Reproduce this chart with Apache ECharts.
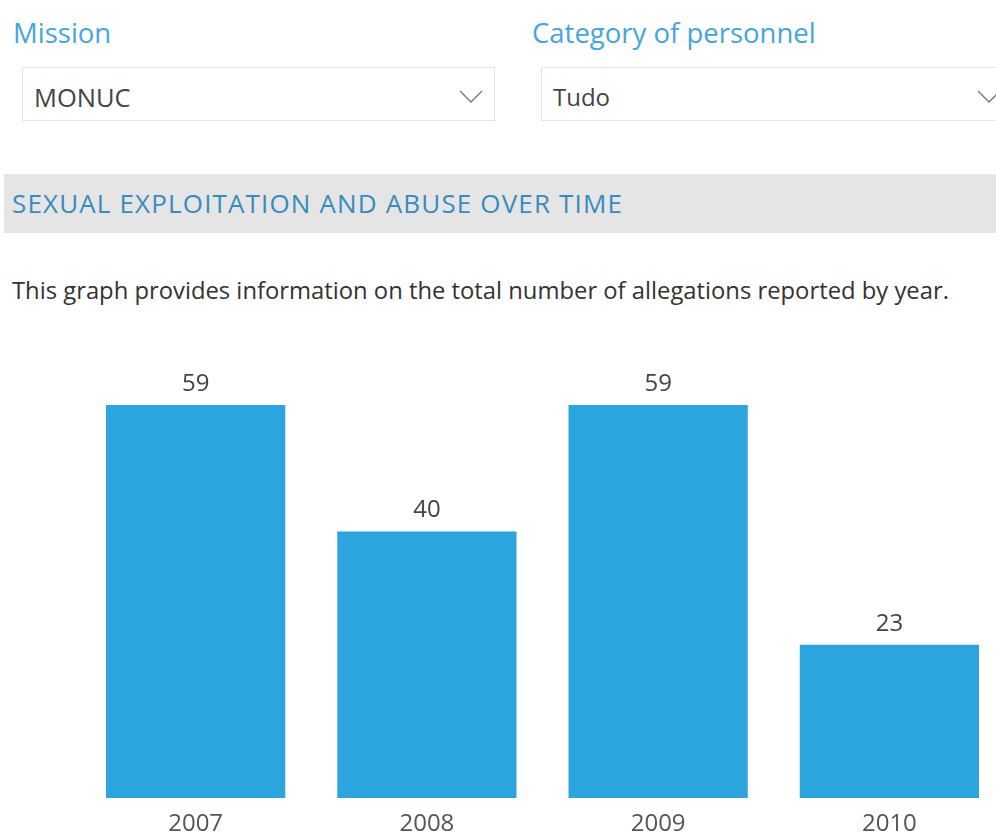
<!DOCTYPE html>
<html>
<head>
<meta charset="utf-8">
<script src="https://cdn.jsdelivr.net/npm/echarts@6/dist/echarts.min.js"></script>
<style>
    html, body { margin: 0; padding: 0; background: #fff; width: 996px; height: 835px; overflow: hidden; }
    body { position: relative; font-family: 'Open Sans', 'Noto Sans', sans-serif; }
    .lbl { position: absolute; top: 13px; font-size: 27.5px; color: #45a5df; line-height: 40px; white-space: nowrap; }
    .sel { position: absolute; top: 67px; height: 52px; border: 1px solid #e4e4e4; background: #fff; box-sizing: content-box; }
    .sel span { position: absolute; left: 11px; top: 2px; line-height: 54px; color: #444; }
    .sel svg { position: absolute; top: 22px; }
    .band { position: absolute; left: 4px; top: 174px; width: 992px; height: 59px; background: #e5e5e5; }
    .band span { position: absolute; left: 8px; top: 0; line-height: 59px; font-size: 26px; color: #3a8bbd;
        letter-spacing: 1.15px; white-space: nowrap; }
    .desc { position: absolute; left: 12px; top: 270px; font-size: 23.8px; color: #333; line-height: 40px; white-space: nowrap; }
    #chart { position: absolute; left: 0; top: 330px; width: 1005px; height: 505px; }
</style>
</head>
<body>
<div class="lbl" style="left:13px">Mission</div>
<div class="sel" style="left:22px;width:471px">
    <span style="font-size:25.5px">MONUC</span>
    <svg style="left:436px" width="24" height="14"><polyline points="1,1 12,12 23,1" fill="none" stroke="#777" stroke-width="1.3"/></svg>
</div>
<div class="lbl" style="left:532px">Category of personnel</div>
<div class="sel" style="left:541px;width:470px">
    <span style="font-size:24px">Tudo</span>
    <svg style="left:435px" width="24" height="14"><polyline points="1,1 12,12 23,1" fill="none" stroke="#777" stroke-width="1.3"/></svg>
</div>
<div class="band"><span>SEXUAL EXPLOITATION AND ABUSE OVER TIME</span></div>
<div class="desc">This graph provides information on the total number of allegations reported by year.</div>
<div id="chart"></div>
<script>
    var years = ['2007', '2008', '2009', '2010'];
    var allegations = [59, 40, 59, 23];

    var chart = echarts.init(document.getElementById('chart'));
    var option = {
        animation: false,
        grid: { left: 80, right: 0, top: 75, bottom: 37, outerBoundsMode: 'none', containLabel: false },
        xAxis: {
            type: 'category',
            data: years,
            axisLine: { show: false },
            axisTick: { show: false },
            axisLabel: { color: '#555', fontSize: 24, margin: 14, fontFamily: 'Open Sans' }
        },
        yAxis: {
            type: 'value',
            min: 0,
            max: 59,
            show: false
        },
        series: [{
            type: 'bar',
            data: allegations,
            barCategoryGap: '22.5%',
            itemStyle: { color: '#2ca5df' },
            label: {
                show: true,
                position: 'top',
                distance: 9,
                color: '#444',
                fontSize: 24,
                fontFamily: 'Open Sans'
            }
        }]
    };
    chart.setOption(option);
</script>
</body>
</html>
